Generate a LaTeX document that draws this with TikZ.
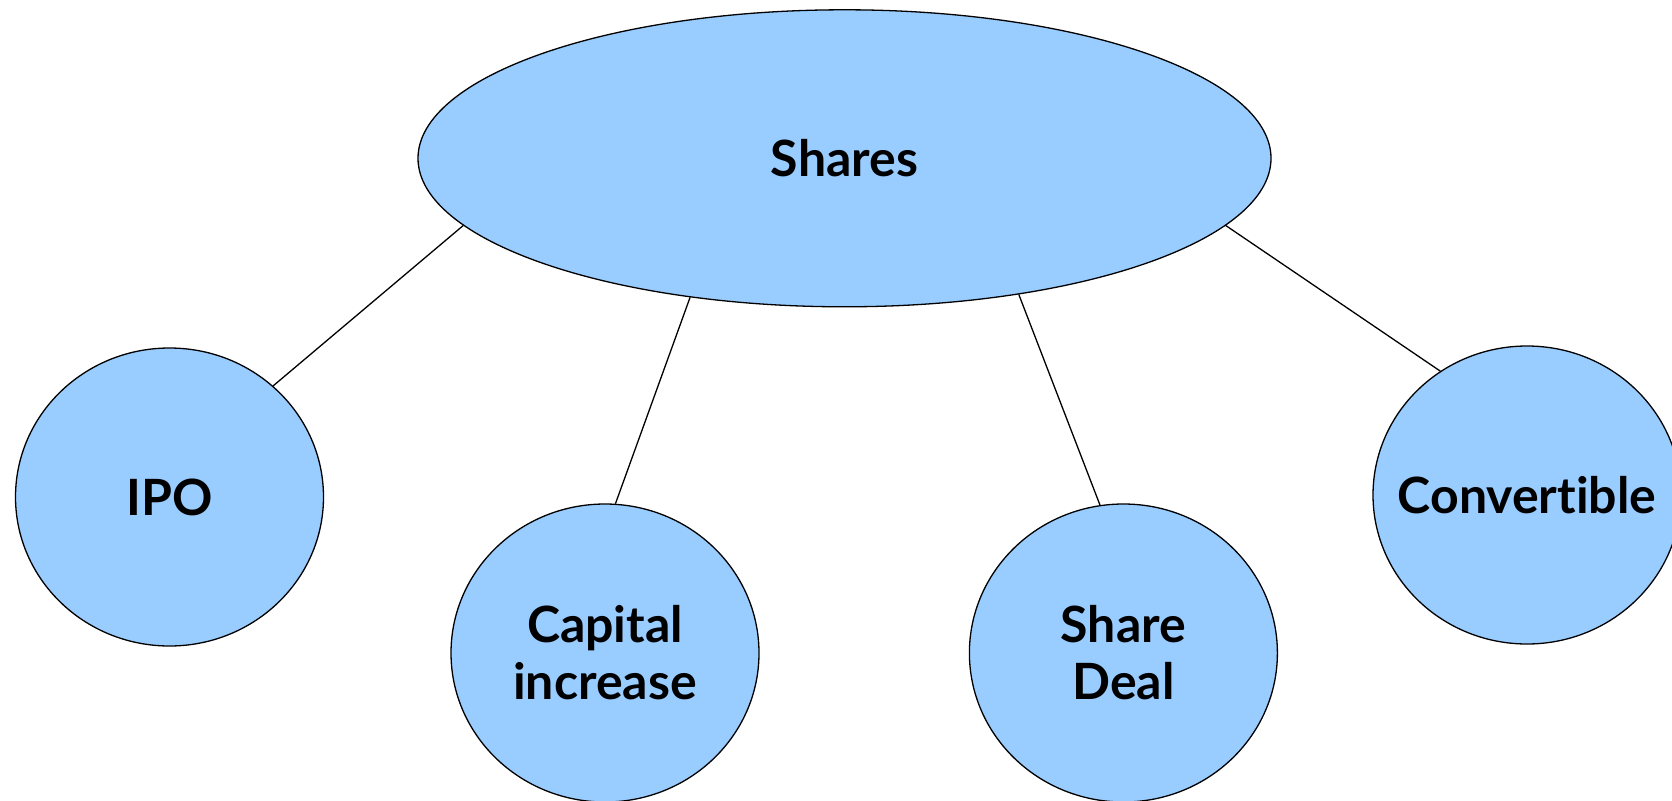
\documentclass[tikz,border=0pt]{standalone}
\usepackage{fontspec}
\setmainfont[Ligatures=NoCommon]{Lato}
\usetikzlibrary{shapes.geometric}
\definecolor{bubble}{HTML}{99CCFF}
\begin{document}
\begin{tikzpicture}[x=1pt,y=-1pt,
  bubblestyle/.style={ellipse, draw=black, line width=1.3pt, fill=bubble,
    inner sep=0pt, align=center, font=\fontsize{50}{57}\selectfont\bfseries},
  topic/.style={bubblestyle, minimum width=853pt, minimum height=297pt},
  leaf/.style={bubblestyle, minimum width=308pt, minimum height=298pt},
  link/.style={draw=black, line width=1.3pt}]
\useasboundingbox (0,0) rectangle (1672,800);
\begin{scope}
\clip (0,0) rectangle (1672,800);
\node[topic] (shares) at (844.5,158.3) {Shares};
\node[leaf] (ipo) at (169.5,497) {IPO};
\node[leaf] (capital) at (605,653) {Capital\\increase};
\node[leaf] (deal) at (1123.4,653) {Share\\Deal};
% the label is wider than the bubble, so it is given no width of its own
\node[leaf] (conv) at (1527,495) {\makebox[0pt]{Convertible}};
\draw[link] (shares.190.1) -- (ipo.47.2);
\draw[link] (shares.222.4) -- (capital.86.2);
\draw[link] (shares.322.3) -- (deal.99.7);
\draw[link] (shares.350.2) -- (conv.125.9);
\end{scope}
\end{tikzpicture}
\end{document}
